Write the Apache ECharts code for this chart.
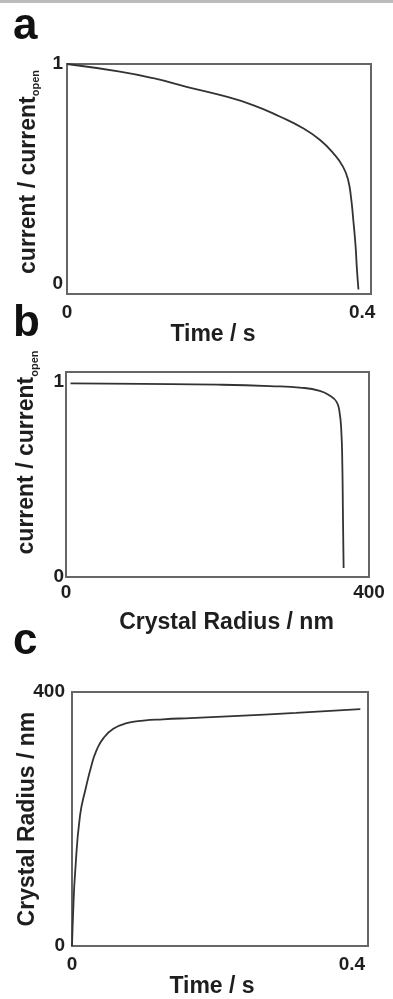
<!DOCTYPE html>
<html>
<head>
<meta charset="utf-8">
<style>
  html, body { margin: 0; padding: 0; background: #fff; }
  #main { width: 393px; height: 999px; }
</style>
<script src="https://cdn.jsdelivr.net/npm/echarts@6/dist/echarts.min.js"></script>
</head>
<body>
<div id="main"></div>
<script>
// panel a: current / current_open against time (s)
const currentVsTime = [
  [0, 1.0], [0.0718, 0.966], [0.117, 0.937], [0.162, 0.899], [0.207, 0.863],
  [0.252, 0.818], [0.289, 0.766], [0.32, 0.715], [0.343, 0.663], [0.361, 0.604],
  [0.374, 0.545], [0.381, 0.486], [0.385, 0.406], [0.388, 0.308], [0.391, 0.197],
  [0.393, 0.086], [0.395, 0.0]
];
// panel b: current / current_open against crystal radius (nm)
const currentVsRadius = [
  [5.9, 0.993], [100, 0.99], [200, 0.986], [269, 0.979], [312, 0.97],
  [335, 0.954], [348, 0.93], [357, 0.899], [361, 0.848], [363.5, 0.745],
  [364.8, 0.574], [365.6, 0.318], [366.5, 0.046]
];
// panel c: crystal radius (nm) against time (s)
const radiusVsTime = [
  [0, 0], [0.002, 63], [0.0043, 113], [0.0114, 205], [0.02, 250],
  [0.0282, 286], [0.0353, 309], [0.0447, 327], [0.059, 342], [0.078, 351],
  [0.102, 355], [0.13, 357], [0.169, 359], [0.23, 362], [0.32, 367], [0.412, 373]
];
const timeTicks = [0, 0.4];
const radiusTicks = [0, 400];
const ratioTicks = [0, 1];
const panelLetters = ["a", "b", "c"];

const chart = echarts.init(document.getElementById("main"));

const font = "'Liberation Sans', Arial, sans-serif";
const ink = "#1e1e1e";
const tickLabel = (margin, extra) => Object.assign({
  fontFamily: font, fontSize: 19, fontWeight: "bold", color: ink, margin
}, extra || {});
const titleText = (padding) => ({
  fontFamily: font, fontSize: 23, fontWeight: "bold", color: ink, padding
});
const ratioName = (padding) => ({
  padding,
  rich: {
    m: { fontFamily: font, fontSize: 23, fontWeight: "bold", color: ink, lineHeight: 26 },
    s: { fontFamily: font, fontSize: 11, fontWeight: "bold", color: ink, lineHeight: 11, verticalAlign: "bottom" }
  }
});
const hidden = { axisLine: { show: false }, axisTick: { show: false }, splitLine: { show: false } };

const options = {
  animation: false,
  backgroundColor: "#fff",
  graphic: [
    { type: "rect", left: 0, top: 0, shape: { width: 393, height: 3 }, style: { fill: "#bcbcbc" } }
  ],
  title: panelLetters.map((t, i) => ({
    text: t,
    left: 13,
    top: [5, 302, 620][i],
    padding: 0,
    textStyle: { fontFamily: font, fontSize: 44, fontWeight: "bold", color: "#111" }
  })),
  grid: [
    { left: 67, top: 64, width: 304, height: 230 },
    { left: 66, top: 372, width: 303, height: 205 },
    { left: 72, top: 692, width: 296, height: 262 }
  ].map((g) => Object.assign({ show: true, borderColor: "#666", borderWidth: 2, backgroundColor: "transparent" }, g)),
  xAxis: [
    Object.assign({
      gridIndex: 0, type: "value", min: 0, max: 0.412,
      axisLabel: tickLabel(9, { customValues: timeTicks }),
      name: "Time / s", nameLocation: "middle", nameGap: 24,
      nameTextStyle: titleText([0, 12, 0, 0])
    }, hidden),
    Object.assign({
      gridIndex: 1, type: "value", min: 0, max: 400,
      axisLabel: tickLabel(6, { customValues: radiusTicks }),
      name: "Crystal Radius / nm", nameLocation: "middle", nameGap: 34,
      nameTextStyle: titleText([0, 0, 0, 18])
    }, hidden),
    Object.assign({
      gridIndex: 2, type: "value", min: 0, max: 0.423,
      axisLabel: tickLabel(9, { customValues: timeTicks }),
      name: "Time / s", nameLocation: "middle", nameGap: 28,
      nameTextStyle: titleText([0, 16, 0, 0])
    }, hidden)
  ],
  yAxis: [
    Object.assign({
      gridIndex: 0, type: "value", min: -0.02, max: 1,
      axisLabel: tickLabel(4, {
        customValues: ratioTicks,
        formatter: (v) => (v === 0 ? "{lo|0}" : "{n|1}"),
        rich: {
          n: { fontFamily: font, fontSize: 19, fontWeight: "bold", color: ink },
          lo: { fontFamily: font, fontSize: 19, fontWeight: "bold", color: ink, padding: [0, 0, 12, 0] }
        }
      }),
      name: "{m|current / current}{s|open}", nameLocation: "middle", nameRotate: 90, nameGap: 25,
      nameTextStyle: ratioName([0, 0, 0, 14])
    }, hidden),
    Object.assign({
      gridIndex: 1, type: "value", min: 0, max: 1.051,
      axisLabel: tickLabel(2, { customValues: ratioTicks }),
      name: "{m|current / current}{s|open}", nameLocation: "middle", nameRotate: 90, nameGap: 26,
      nameTextStyle: ratioName([0, 0, 0, 44])
    }, hidden),
    Object.assign({
      gridIndex: 2, type: "value", min: 0, max: 400,
      axisLabel: tickLabel(7, { customValues: radiusTicks }),
      name: "Crystal Radius / nm", nameLocation: "middle", nameRotate: 90, nameGap: 33,
      nameMoveOverlap: false,
      nameTextStyle: titleText(0)
    }, hidden)
  ],
  series: [currentVsTime, currentVsRadius, radiusVsTime].map((data, i) => ({
    type: "line",
    xAxisIndex: i,
    yAxisIndex: i,
    data,
    showSymbol: false,
    smooth: 0.5,
    lineStyle: { color: "#333", width: 1.8 }
  }))
};

chart.setOption(options);
</script>
</body>
</html>
